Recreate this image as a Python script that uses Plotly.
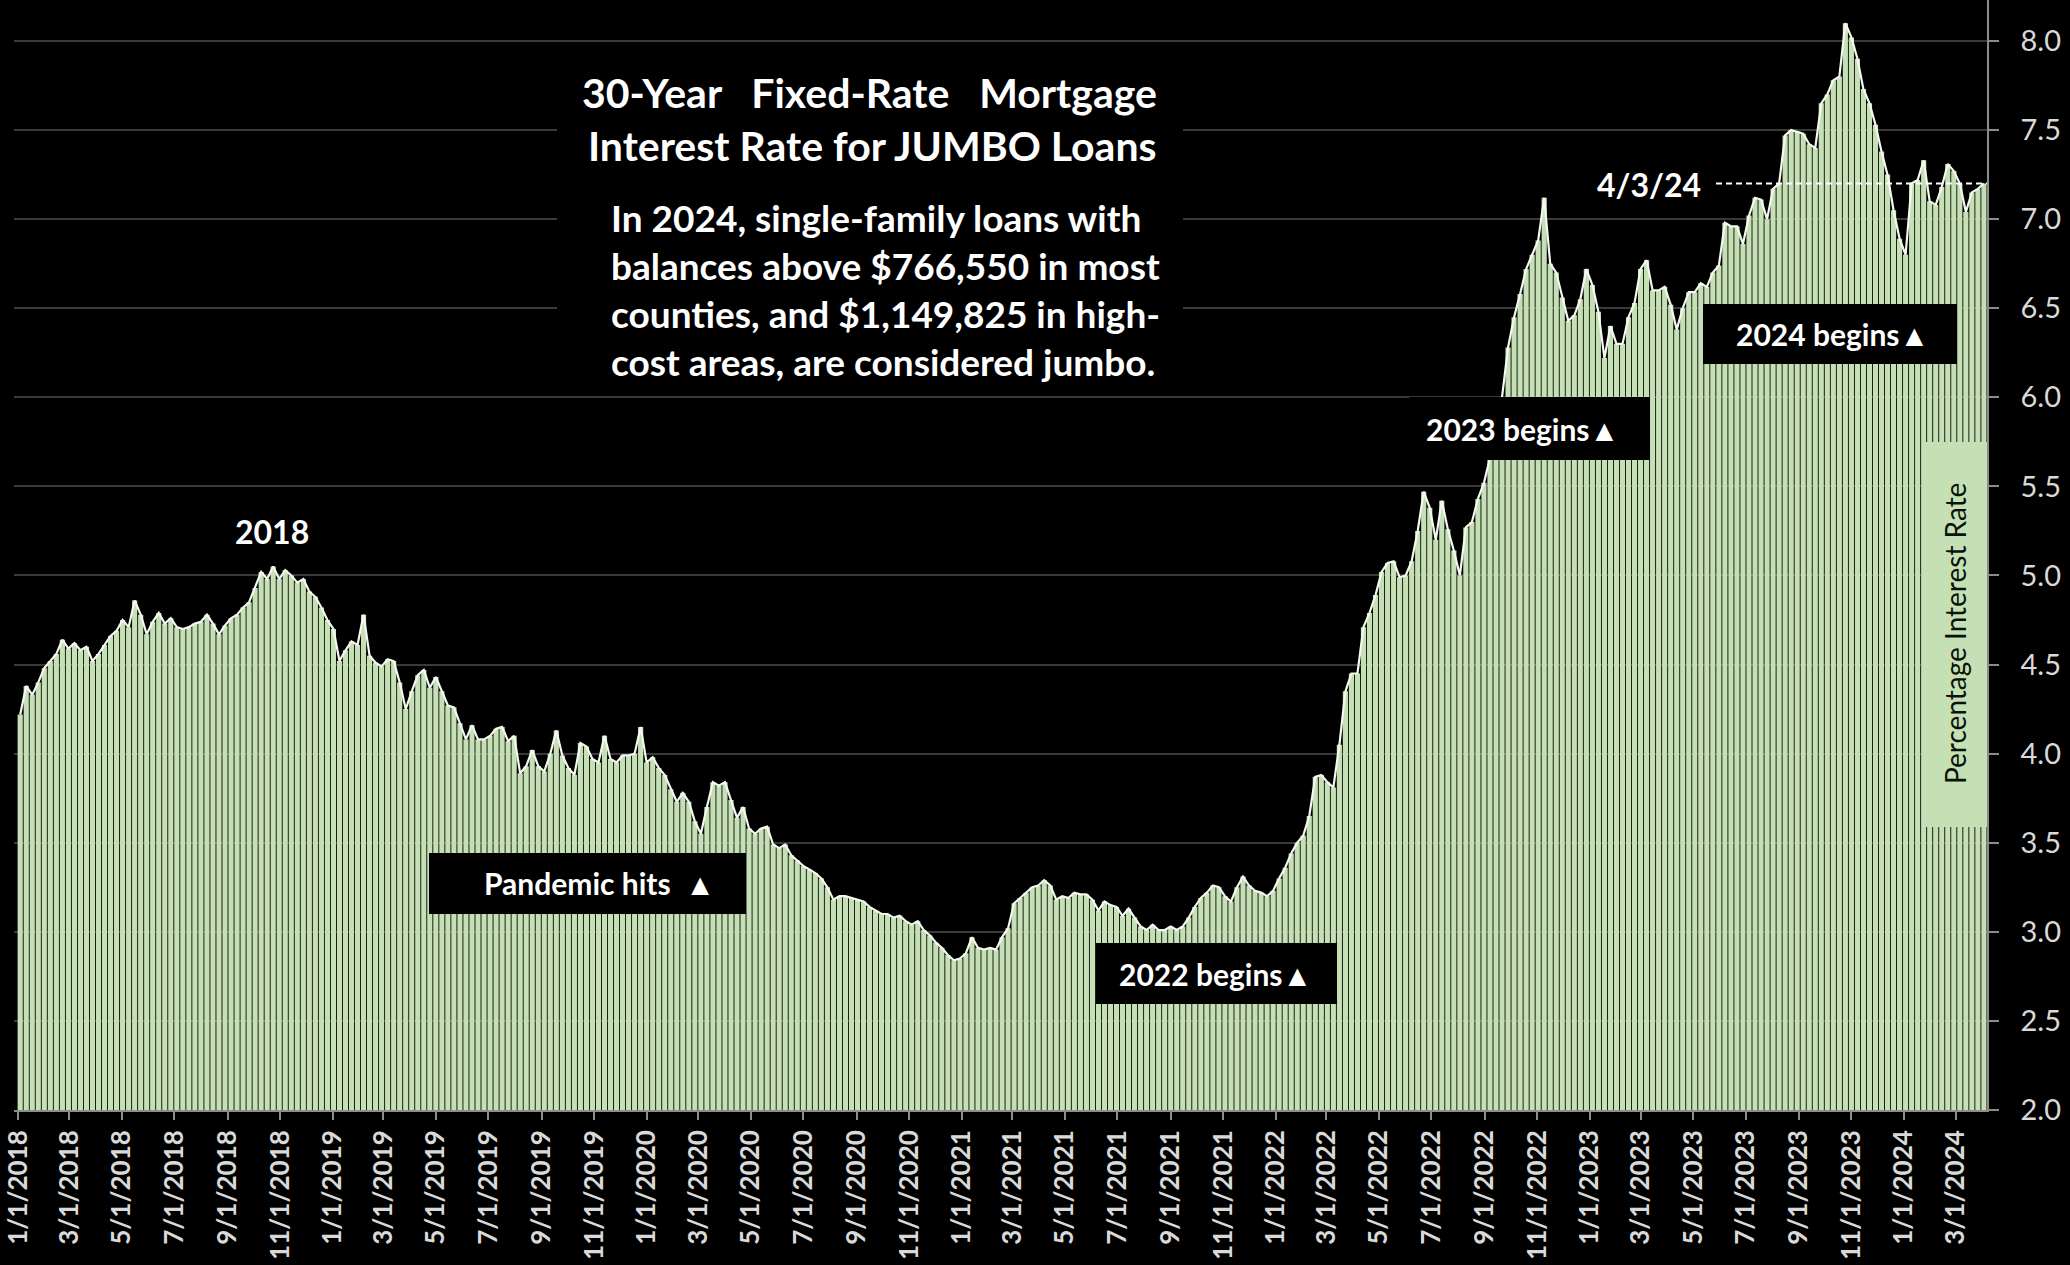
import pandas as pd
import plotly.graph_objects as go

# Weekly 30-year fixed jumbo mortgage rate (%), one value per Wednesday
rates_2018 = [
    4.22, 4.38, 4.33, 4.40, 4.48, 4.52, 4.56, 4.64, 4.59, 4.62,
    4.58, 4.60, 4.52, 4.56, 4.61, 4.66, 4.69, 4.75, 4.71, 4.86,
    4.78, 4.67, 4.74, 4.79, 4.73, 4.76, 4.71, 4.70, 4.71, 4.73,
    4.74, 4.78, 4.73, 4.67, 4.72, 4.76, 4.78, 4.82, 4.85, 4.93,
    5.02, 4.98, 5.05, 4.98, 5.03, 5.00, 4.96, 4.98, 4.91, 4.88,
    4.82, 4.75,
]
rates_2019 = [
    4.70, 4.52, 4.58, 4.63, 4.61, 4.78, 4.55, 4.51, 4.49, 4.53,
    4.52, 4.40, 4.25, 4.35, 4.44, 4.47, 4.37, 4.43, 4.35, 4.27,
    4.26, 4.17, 4.08, 4.16, 4.08, 4.08, 4.10, 4.14, 4.15, 4.07,
    4.10, 3.89, 3.93, 4.02, 3.93, 3.90, 4.00, 4.13, 3.99, 3.92,
    3.88, 4.06, 4.04, 3.97, 3.95, 4.10, 3.97, 3.95, 3.99, 3.99,
    4.00, 4.15,
]
rates_2020 = [
    3.95, 3.98, 3.92, 3.88, 3.80, 3.73, 3.78, 3.73, 3.62, 3.55,
    3.70, 3.84, 3.82, 3.84, 3.74, 3.64, 3.70, 3.58, 3.55, 3.58,
    3.59, 3.49, 3.47, 3.49, 3.43, 3.40, 3.37, 3.35, 3.33, 3.30,
    3.25, 3.18, 3.20, 3.20, 3.19, 3.18, 3.17, 3.14, 3.12, 3.10,
    3.10, 3.08, 3.09, 3.06, 3.04, 3.06, 3.01, 2.98, 2.94, 2.91,
    2.87, 2.84, 2.85,
]
rates_2021 = [
    2.88, 2.97, 2.91, 2.90, 2.91, 2.90, 2.97, 3.02, 3.16, 3.19,
    3.22, 3.25, 3.26, 3.29, 3.26, 3.18, 3.20, 3.19, 3.22, 3.21,
    3.21, 3.18, 3.12, 3.17, 3.15, 3.14, 3.09, 3.13, 3.08, 3.03,
    3.01, 3.04, 3.01, 3.01, 3.03, 3.01, 3.03, 3.08, 3.14, 3.19,
    3.22, 3.26, 3.25, 3.20, 3.17, 3.25, 3.31, 3.26, 3.23, 3.22,
    3.20, 3.23,
]
rates_2022 = [
    3.30, 3.36, 3.44, 3.50, 3.54, 3.65, 3.87, 3.88, 3.84, 3.81,
    4.05, 4.35, 4.45, 4.45, 4.71, 4.79, 4.89, 5.02, 5.07, 5.08,
    4.99, 5.00, 5.08, 5.25, 5.47, 5.38, 5.20, 5.42, 5.26, 5.14,
    5.00, 5.27, 5.30, 5.43, 5.52, 5.66, 5.85, 6.00, 6.28, 6.45,
    6.58, 6.72, 6.80, 6.88, 7.12, 6.75, 6.70, 6.56, 6.43, 6.46,
    6.55, 6.72,
]
rates_2023 = [
    6.63, 6.48, 6.22, 6.40, 6.30, 6.30, 6.45, 6.53, 6.72, 6.77,
    6.60, 6.60, 6.62, 6.52, 6.38, 6.50, 6.59, 6.59, 6.64, 6.62,
    6.70, 6.74, 6.98, 6.96, 6.96, 6.86, 7.02, 7.12, 7.11, 7.00,
    7.17, 7.20, 7.47, 7.50, 7.49, 7.48, 7.42, 7.40, 7.65, 7.70,
    7.78, 7.80, 8.10, 8.02, 7.90, 7.73, 7.65, 7.53, 7.38, 7.25,
    7.05, 6.89,
]
rates_2024 = [
    6.80, 7.20, 7.22, 7.33, 7.10, 7.08, 7.18, 7.31, 7.27, 7.20,
    7.04, 7.15, 7.17, 7.20,
]

first_week = "2018-01-03"
last_week = "2024-04-03"
last_label = "4/3/24"

tick_months = [1, 3, 5, 7, 9, 11]
tick_years = [2018, 2019, 2020, 2021, 2022, 2023, 2024]

title_lines = ["30-Year\u00a0\u00a0\u00a0Fixed-Rate\u00a0\u00a0\u00a0Mortgage",
               "Interest Rate for JUMBO Loans"]
note_lines = ["In 2024, single-family loans with",
              "balances above $766,550 in most",
              "counties, and $1,149,825 in high-",
              "cost areas, are considered jumbo."]
y_title = "Percentage Interest Rate"

rates = (rates_2018 + rates_2019 + rates_2020 + rates_2021
         + rates_2022 + rates_2023 + rates_2024)
week_dates = pd.date_range(first_week, last_week, freq="7D")
assert len(week_dates) == len(rates)

tick_vals = []
tick_text = []
for yr in tick_years:
    for mo in tick_months:
        if (yr, mo) <= (2024, 3):
            tick_vals.append(f"{yr}-{mo:02d}-01")
            tick_text.append(f"{mo}/1/{yr}")

# ---- page geometry (pixels) ----
W, H = 2070, 1265
PL, PR, PT, PB = 14, 1987, 0, 1110


def xp(px):
    return (px - PL) / (PR - PL)


def yp(py):
    return (PB - py) / (PB - PT)


FONT = "Lato, 'Open Sans', sans-serif"
GREEN = "#c5e0b4"
TEXT = "#ffffff"
AXIS_TEXT = "#d9d9d9"
AXIS_LINE = "#8c8c8c"

fig = go.Figure()
fig.add_trace(go.Bar(
    x=week_dates, y=rates,
    width=6 * 86400000,
    marker=dict(color=GREEN, line=dict(width=0)),
    hoverinfo="skip",
))
fig.add_trace(go.Scatter(
    x=week_dates, y=rates, mode="lines",
    line=dict(color="#f4f8f0", width=2.2),
    hoverinfo="skip",
))

shapes = []
annotations = []


def rect(x0, y0, x1, y1, color):
    shapes.append(dict(type="rect", xref="paper", yref="paper",
                       x0=xp(x0), x1=xp(x1), y0=yp(y1), y1=yp(y0),
                       fillcolor=color, line=dict(width=0), layer="above"))


def text(s, x, y, size, anchor="center", color=TEXT, bold=True, angle=0):
    annotations.append(dict(
        text=s, xref="paper", yref="paper", x=xp(x), y=yp(y),
        xanchor=anchor, yanchor="middle", showarrow=False, textangle=angle,
        font=dict(family=FONT, size=size, color=color,
                  weight="bold" if bold else "normal"),
    ))


# title block sits on a black panel that masks the gridlines
rect(557, 55, 1183, 390, "#000000")
text(title_lines[0], 1159, 92, 41, anchor="right")
text(title_lines[1], 1159, 145, 41, anchor="right")
for i, line in enumerate(note_lines):
    text(line, 609, 217 + i * 48, 37, anchor="left")

# event callouts
rect(429, 853, 746, 914, "#000000")
text("Pandemic hits\u00a0\u00a0▲", 717, 883, 30, anchor="right")
rect(1096, 943, 1337, 1004, "#000000")
text("2022 begins▲", 1314, 974, 30, anchor="right")
rect(1409, 397, 1650, 460, "#000000")
text("2023 begins▲", 1621, 429, 30, anchor="right")
rect(1703, 304, 1957, 364, "#000000")
text("2024 begins▲", 1931, 334, 30, anchor="right")

text("2018", 272, 531, 32)

# latest reading marker
latest = rates_2024[-1]
shapes.append(dict(type="line", xref="paper", yref="y",
                   x0=xp(1716), x1=1.0, y0=latest, y1=latest,
                   line=dict(color="#ffffff", width=2, dash="6px,4px"),
                   layer="above"))
text(last_label, 1703, 185, 32, anchor="right")

# axis title panel
rect(1922, 442, 1987, 827, GREEN)
text(y_title, 1955, 634, 28, color="#0c1208", bold=False, angle=-90)

fig.update_layout(
    width=W, height=H,
    margin=dict(l=PL, r=W - PR, t=PT, b=H - PB, pad=0),
    paper_bgcolor="#000000", plot_bgcolor="#000000",
    showlegend=False,
    shapes=shapes, annotations=annotations,
    xaxis=dict(
        type="date",
        range=["2017-12-26 19:00", "2024-04-06 14:00"],
        tickmode="array", tickvals=tick_vals, ticktext=tick_text,
        tickangle=-90, ticklabeloverflow="allow",
        tickfont=dict(family=FONT, size=26, color=AXIS_TEXT, weight="bold"),
        ticks="outside", ticklen=8, tickcolor=AXIS_LINE, tickwidth=1.5,
        showline=True, linecolor=AXIS_LINE, linewidth=1.5,
        showgrid=False, zeroline=False, automargin=False,
    ),
    yaxis=dict(
        side="right", range=[2.0, 8.23],
        tick0=2.0, dtick=0.5, tickformat=".1f",
        tickfont=dict(family=FONT, size=29, color=AXIS_TEXT),
        ticks="outside", ticklen=10, tickcolor=AXIS_LINE, tickwidth=1.5,
        ticklabelstandoff=16,
        showline=True, linecolor=AXIS_LINE, linewidth=1.5,
        showgrid=True, gridcolor="#3a3a3a", gridwidth=1.5,
        zeroline=False, automargin=False,
    ),
)

fig.write_html("out.html")
